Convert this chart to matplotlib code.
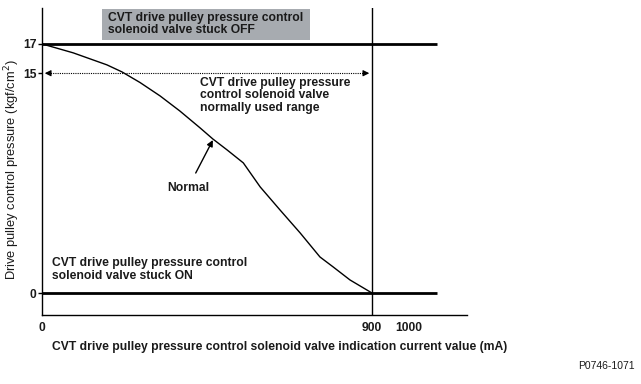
import matplotlib.pyplot as plt
from matplotlib.patches import Rectangle

# Normal characteristic: current (mA) vs drive pulley control pressure (kgf/cm2)
current_ma = [0, 85, 177, 218, 267, 322, 376, 431, 466, 505, 549, 595, 649, 704, 758, 794, 840, 900]
pressure = [17.0, 16.39, 15.57, 15.09, 14.37, 13.45, 12.42, 11.27, 10.51, 9.76, 8.88, 7.24,
            5.67, 4.10, 2.46, 1.78, 0.89, 0.0]

stuck_off = 17
stuck_on = 0
range_low = 15
max_current = 900
x_ticks = [0, 900, 1000]
y_ticks = [0, 15, 17]

plt.rcParams['font.family'] = ['Liberation Sans', 'DejaVu Sans']
FS = 8.7
TXT = '#1a1a1a'

fig = plt.figure(figsize=(6.41, 3.84), dpi=100)
ax = fig.add_axes([42 / 641, 1 - 315 / 384, 425 / 641, 307 / 384])
ax.set_xlim(0, 1159)
ax.set_ylim(-1.5, 19.45)
ax.spines['top'].set_visible(False)
ax.spines['right'].set_visible(False)
for s in ['left', 'bottom']:
    ax.spines[s].set_linewidth(1.0)

ax.set_xticks(x_ticks)
ax.set_xticklabels([str(t) for t in x_ticks], fontsize=FS, fontweight='bold', color=TXT)
ax.set_yticks(y_ticks)
ax.set_yticklabels([str(t) for t in y_ticks], fontsize=FS, fontweight='bold', color=TXT)
ax.tick_params(axis='x', length=0, pad=5)
ax.tick_params(axis='y', length=3, width=1, pad=1)

# stuck OFF / stuck ON lines
xend = 1078
ax.plot([0, xend], [stuck_off, stuck_off], color='black', lw=2, solid_capstyle='butt')
ax.plot([0, xend], [stuck_on, stuck_on], color='black', lw=2, solid_capstyle='butt')
ax.axvline(max_current, color='black', lw=1)

# normal curve
ax.plot(current_ma, pressure, color='black', lw=1)

# normally used range arrow
ax.plot([10, max_current - 15], [range_low, range_low], color='black', lw=0.8, ls=(0, (1, 1)))
ax.annotate('', xy=(0, range_low), xytext=(30, range_low),
            arrowprops=dict(arrowstyle='-|>', color='black', lw=0.8, mutation_scale=9))
ax.annotate('', xy=(max_current, range_low), xytext=(max_current - 30, range_low),
            arrowprops=dict(arrowstyle='-|>', color='black', lw=0.8, mutation_scale=9))

# gray box
ax.add_patch(Rectangle((164, 17.27), 567, 2.12, facecolor='#a7abb0', edgecolor='none', zorder=1))
ax.text(180, 18.35, 'CVT drive pulley pressure control\nsolenoid valve stuck OFF',
        fontsize=FS, fontweight='bold', va='center', ha='left', linespacing=1.05, color=TXT)

ax.text(430, 14.75, 'CVT drive pulley pressure\ncontrol solenoid valve\nnormally used range',
        fontsize=FS, fontweight='bold', va='top', ha='left', linespacing=1.05, color=TXT)

ax.text(27, 1.6, 'CVT drive pulley pressure control\nsolenoid valve stuck ON',
        fontsize=FS, fontweight='bold', va='center', ha='left', linespacing=1.05, color=TXT)

ax.annotate('Normal', xy=(466, 10.44), xytext=(398, 7.17), fontsize=FS, fontweight='bold',
            ha='center', va='center', color=TXT,
            arrowprops=dict(arrowstyle='-|>', color='black', lw=1, mutation_scale=9,
                            shrinkA=5, shrinkB=0))

ax.set_ylabel('Drive pulley control pressure (kgf/cm$^2$)', fontsize=9.3, color=TXT)
ax.yaxis.set_label_coords(-20 / 425, (315 - 170) / 307)
ax.set_xlabel('CVT drive pulley pressure control solenoid valve indication current value (mA)',
              fontsize=FS, fontweight='bold', labelpad=5, color=TXT, x=0.56)

fig.text(635 / 641, 1 - 366 / 384, 'P0746-1071', fontsize=7.5, ha='right', va='center', color=TXT)

fig.savefig('out.png', dpi=100)
